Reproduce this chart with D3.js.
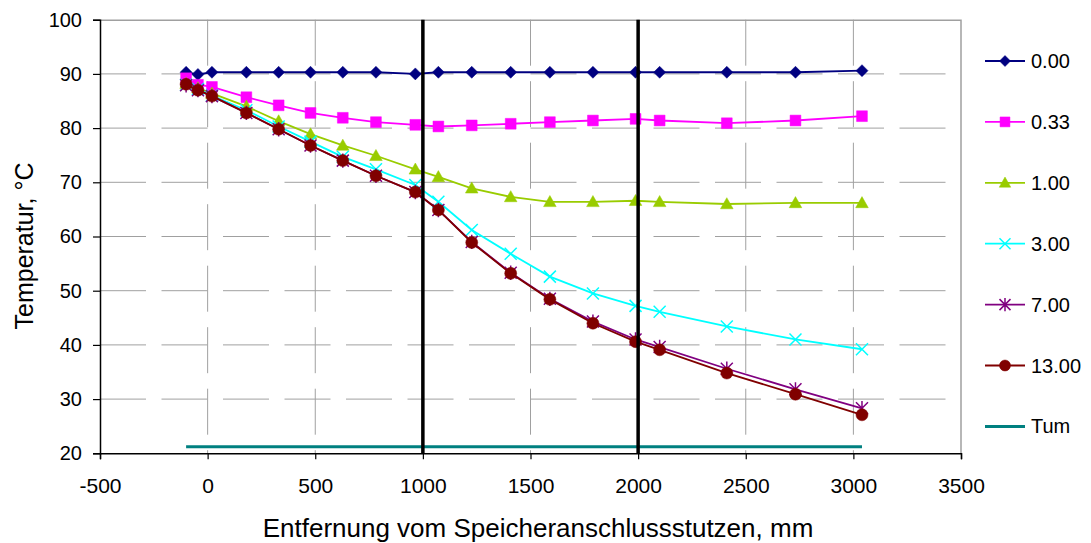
<!DOCTYPE html>
<html>
<head>
<meta charset="utf-8">
<script src="https://cdn.jsdelivr.net/npm/d3@7"></script>
<style>
  body { margin: 0; background: #fff; }
  text { font-family: "Liberation Sans", Arial, sans-serif; fill: #000; }
</style>
</head>
<body>
<div id="chart"></div>
<script>
// positions along the pipe, mm
const distances = [-100, -45, 20, 180, 330, 478, 628, 782, 965, 1072, 1227, 1408, 1590, 1790, 1988, 2100, 2412, 2731, 3040];

// temperatures per time step
const t000 = [90.3, 89.9, 90.3, 90.3, 90.3, 90.3, 90.3, 90.3, 90.0, 90.3, 90.3, 90.3, 90.3, 90.3, 90.3, 90.3, 90.3, 90.3, 90.6];
const t033 = [89.2, 88.0, 87.6, 85.7, 84.2, 82.8, 81.9, 81.1, 80.6, 80.3, 80.5, 80.8, 81.1, 81.4, 81.7, 81.4, 80.9, 81.4, 82.2];
const t100 = [88.2, 87.4, 86.4, 84.0, 81.3, 78.9, 76.8, 74.9, 72.4, 71.0, 68.9, 67.3, 66.4, 66.4, 66.6, 66.4, 66.0, 66.2, 66.2];
const t300 = [88.0, 87.2, 86.0, 83.3, 80.3, 77.5, 74.7, 72.4, 69.5, 66.4, 61.2, 56.8, 52.6, 49.5, 47.2, 46.1, 43.4, 41.0, 39.2];
const t700 = [87.9, 87.0, 85.9, 82.8, 79.8, 76.8, 74.0, 71.2, 68.2, 64.9, 59.0, 53.3, 48.5, 44.3, 41.0, 39.6, 35.6, 31.8, 28.3];
const t1300 = [88.1, 87.0, 85.9, 82.8, 79.8, 76.8, 74.0, 71.2, 68.2, 64.9, 58.9, 53.2, 48.4, 44.0, 40.6, 39.1, 34.8, 30.9, 27.1];

// ambient temperature line
const tumX = [-100, 3040];
const tumY = [21.2, 21.2];

const xTicks = [-500, 0, 500, 1000, 1500, 2000, 2500, 3000, 3500];
const yTicks = [20, 30, 40, 50, 60, 70, 80, 90, 100];
const markLines = [1000, 2000];

const series = [
  { name: "0.00", values: t000, color: "#000080", marker: "diamond" },
  { name: "0.33", values: t033, color: "#ff00ff", marker: "square" },
  { name: "1.00", values: t100, color: "#99cc00", marker: "triangle" },
  { name: "3.00", values: t300, color: "#00ffff", marker: "x" },
  { name: "7.00", values: t700, color: "#800080", marker: "star" },
  { name: "13.00", values: t1300, color: "#800000", marker: "circle" }
];

const width = 1091, height = 543;
const margin = { top: 19.7, left: 100, right: 130, bottom: 90 };
const innerW = 961 - margin.left;
const innerH = 453.3 - margin.top;

const svg = d3.select("#chart").append("svg")
  .attr("width", width)
  .attr("height", height)
  .style("background", "#fff");

const g = svg.append("g")
  .attr("transform", `translate(${margin.left},${margin.top})`);

const x = d3.scaleLinear().domain([-500, 3500]).range([0, innerW]);
const y = d3.scaleLinear().domain([20, 100]).range([innerH, 0]);

// grid lines
g.append("g")
  .selectAll("line")
  .data(yTicks.filter(d => d > 20 && d < 100))
  .join("line")
  .attr("x1", 0).attr("x2", innerW)
  .attr("y1", d => y(d)).attr("y2", d => y(d))
  .attr("stroke", "#a0a0a0")
  .attr("stroke-width", 1)
  .attr("stroke-dasharray", "46,15.5");

g.append("g")
  .selectAll("line")
  .data(xTicks.filter(d => d > -500 && d < 3500))
  .join("line")
  .attr("x1", d => x(d)).attr("x2", d => x(d))
  .attr("y1", 0).attr("y2", innerH)
  .attr("stroke", "#a0a0a0")
  .attr("stroke-width", 1)
  .attr("stroke-dasharray", "46,15.5");

// plot border (top and right)
g.append("path")
  .attr("d", `M0,0.5H${innerW}V${innerH}`)
  .attr("fill", "none")
  .attr("stroke", "#a0a0a0")
  .attr("stroke-width", 1.5);

// plain hyphen for negatives, like the original
const fmt = d => String(d);

// axes
const xAxis = g.append("g")
  .attr("transform", `translate(0,${innerH})`)
  .call(d3.axisBottom(x).tickValues(xTicks).tickSize(6).tickPadding(19).tickFormat(fmt));
const yAxis = g.append("g")
  .call(d3.axisLeft(y).tickValues(yTicks).tickSize(7).tickPadding(11).tickFormat(fmt));

[xAxis, yAxis].forEach(a => {
  a.select(".domain").attr("stroke", "#000").attr("stroke-width", 1.5);
  a.selectAll(".tick line").attr("stroke", "#000").attr("stroke-width", 1.2);
  a.selectAll(".tick text")
    .style("font-size", "20px")
    .style("font-family", "Liberation Sans, Arial, sans-serif")
    .attr("fill", "#000");
});
xAxis.selectAll(".tick text").style("font-size", "21px");

// axis titles
svg.append("text")
  .attr("x", 538)
  .attr("y", 537)
  .attr("text-anchor", "middle")
  .style("font-size", "26px")
  .text("Entfernung vom Speicheranschlussstutzen, mm");

svg.append("text")
  .attr("transform", "translate(33,246) rotate(-90)")
  .attr("text-anchor", "middle")
  .style("font-size", "25px")
  .text("Temperatur, °C");

// marker shapes
const markerPath = (type, s) => {
  switch (type) {
    case "diamond": return `M0,${-s}L${s},0L0,${s}L${-s},0Z`;
    case "square": return `M${-s * 0.9},${-s * 0.9}H${s * 0.9}V${s * 0.9}H${-s * 0.9}Z`;
    case "triangle": return `M0,${-s * 1.05}L${s * 1.05},${s * 0.8}L${-s * 1.05},${s * 0.8}Z`;
    case "x": return `M${-s},${-s}L${s},${s}M${-s},${s}L${s},${-s}`;
    case "star": return `M${-s},${-s}L${s},${s}M${-s},${s}L${s},${-s}M0,${-s * 1.2}V${s * 1.2}`;
    case "circle": return d3.symbol(d3.symbolCircle, Math.PI * s * s)();
  }
};
const isStroke = t => t === "x" || t === "star";

// Tum line
g.append("path")
  .datum(tumX.map((d, i) => [d, tumY[i]]))
  .attr("fill", "none")
  .attr("stroke", "#008080")
  .attr("stroke-width", 3)
  .attr("d", d3.line().x(d => x(d[0])).y(d => y(d[1])));

// series lines + markers
const line = d3.line().x(d => x(d[0])).y(d => y(d[1]));
series.forEach(s => {
  const pts = distances.map((d, i) => [d, s.values[i]]);
  g.append("path")
    .datum(pts)
    .attr("fill", "none")
    .attr("stroke", s.color)
    .attr("stroke-width", 1.8)
    .attr("d", line);
  g.append("g")
    .selectAll("path")
    .data(pts)
    .join("path")
    .attr("transform", d => `translate(${x(d[0])},${y(d[1])})`)
    .attr("d", markerPath(s.marker, 6))
    .attr("fill", isStroke(s.marker) ? "none" : s.color)
    .attr("stroke", s.color)
    .attr("stroke-width", isStroke(s.marker) ? 1.5 : 0.5);
});

// black marker lines at 1000 and 2000 mm
g.append("g")
  .selectAll("line")
  .data(markLines)
  .join("line")
  .attr("x1", d => x(d)).attr("x2", d => x(d))
  .attr("y1", 0).attr("y2", innerH)
  .attr("stroke", "#000")
  .attr("stroke-width", 3.5);

// legend
const legend = svg.append("g").attr("transform", "translate(985,61)");
const legendItems = series.concat([{ name: "Tum", color: "#008080", marker: null }]);
legendItems.forEach((s, i) => {
  const row = legend.append("g").attr("transform", `translate(0,${i * 60.9})`);
  row.append("line")
    .attr("x1", 0).attr("x2", 40)
    .attr("stroke", s.color)
    .attr("stroke-width", s.marker ? 1.8 : 3);
  if (s.marker) {
    row.append("path")
      .attr("transform", "translate(20,0)")
      .attr("d", markerPath(s.marker, 5.5))
      .attr("fill", isStroke(s.marker) ? "none" : s.color)
      .attr("stroke", s.color)
      .attr("stroke-width", isStroke(s.marker) ? 1.5 : 0.5);
  }
  row.append("text")
    .attr("x", 46)
    .attr("y", 0)
    .attr("dy", "0.35em")
    .style("font-size", "20px")
    .text(s.name);
});
</script>
</body>
</html>
